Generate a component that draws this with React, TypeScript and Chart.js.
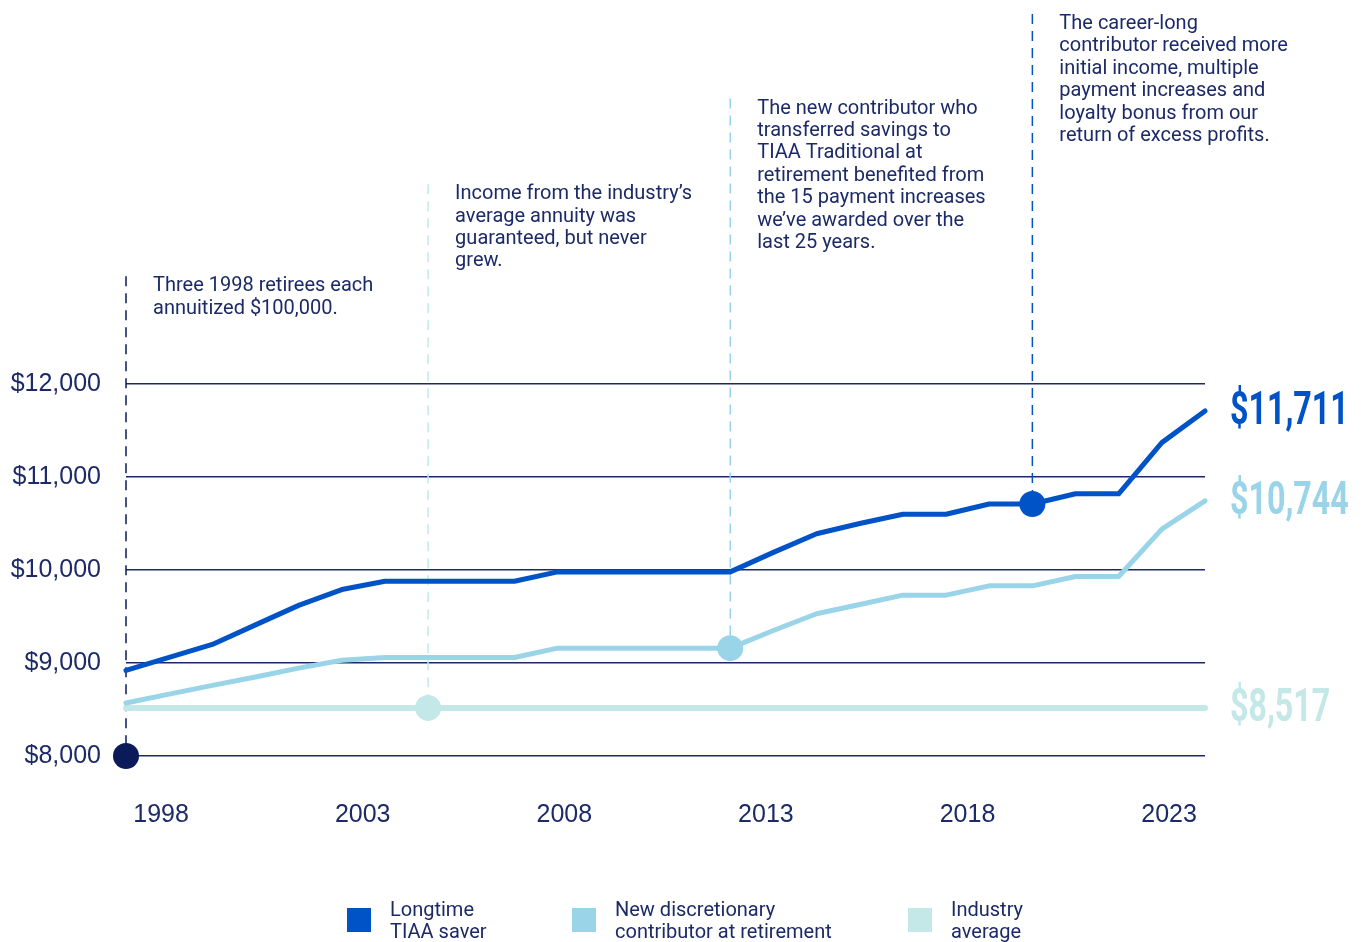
import React, { useEffect, useRef } from 'react';
import { Chart, registerables } from 'chart.js';
Chart.register(...registerables);

// ---- data ----
const years = ['1998','1999','2000','2001','2002','2003','2004','2005','2006','2007','2008','2009','2010','2011','2012','2013','2014','2015','2016','2017','2018','2019','2020','2021','2022','2023'];
const longtimeSaver = [8920,9060,9200,9410,9620,9790,9880,9880,9880,9880,9980,9980,9980,9980,9980,10190,10390,10500,10600,10600,10710,10710,10820,10820,11370,11711];
const newContributor = [8570,8665,8760,8850,8945,9030,9060,9060,9060,9060,9160,9160,9160,9160,9160,9350,9530,9630,9730,9730,9830,9830,9930,9930,10440,10744];
const industryAverage = [8517,8517,8517,8517,8517,8517,8517,8517,8517,8517,8517,8517,8517,8517,8517,8517,8517,8517,8517,8517,8517,8517,8517,8517,8517,8517];
const startValue = 8000;
const yTickValues = [8000, 9000, 10000, 11000, 12000];
const xTickYears = [1998, 2003, 2008, 2013, 2018, 2023];
const endLabels = ['$11,711', '$10,744', '$8,517'];
const legendLabels = [['Longtime', 'TIAA saver'], ['New discretionary', 'contributor at retirement'], ['Industry', 'average']];

const annotationTexts = [
  ['Three 1998 retirees each', 'annuitized $100,000.'],
  ['Income from the industry\u2019s', 'average annuity was', 'guaranteed, but never', 'grew.'],
  ['The new contributor who', 'transferred savings to', 'TIAA Traditional at', 'retirement benefited from', 'the 15 payment increases', 'we\u2019ve awarded over the', 'last 25 years.'],
  ['The career-long', 'contributor received more', 'initial income, multiple', 'payment increases and', 'loyalty bonus from our', 'return of excess profits.'],
];
const annotationIndex = [0, 7, 14, 21];
const annotationValue = [8000, 8517, 9160, 10710];
const annotationTop = [13160, 14150, 15070, 15980];

// ---- styles ----
const NAVY = '#1c2a68';
const DOT_NAVY = '#0b1a58';
const BLUE = '#0053c6';
const LIGHT = '#99d4e8';
const TEAL = '#c4e7e7';
const seriesColors = [BLUE, LIGHT, TEAL];
const annotationColors = [DOT_NAVY, TEAL, LIGHT, BLUE];
const TEXT_FONT = '20px Roboto';

const overlayPlugin = {
  id: 'overlay',
  beforeDatasetsDraw(chart: any) {
    const { ctx, scales } = chart;
    const x = scales.x, y = scales.y;
    annotationTexts.forEach((lines, i) => {
      const px = x.getPixelForValue(annotationIndex[i]);
      const top = y.getPixelForValue(annotationTop[i]);
      const bottom = y.getPixelForValue(annotationValue[i]);
      ctx.save();
      ctx.setLineDash([10, 7]);
      ctx.lineWidth = 1.5;
      ctx.strokeStyle = annotationColors[i];
      ctx.beginPath();
      ctx.moveTo(px, top);
      ctx.lineTo(px, bottom);
      ctx.stroke();
      ctx.setLineDash([]);
      ctx.fillStyle = NAVY;
      ctx.font = TEXT_FONT;
      ctx.textAlign = 'left';
      ctx.textBaseline = 'middle';
      lines.forEach((l, k) => ctx.fillText(l, px + 27, top + 10 + k * 22.4));
      ctx.restore();
    });
  },
  afterDraw(chart: any) {
    const { ctx, scales, chartArea } = chart;
    const y = scales.y;
    const lastVals = [longtimeSaver[longtimeSaver.length - 1], newContributor[newContributor.length - 1], industryAverage[industryAverage.length - 1]];
    ctx.save();
    lastVals.forEach((v, i) => {
      const py = y.getPixelForValue(v);
      ctx.save();
      ctx.translate(chartArea.right + 25, py);
      ctx.scale(0.7, 1);
      ctx.font = 'bold 46px Roboto';
      ctx.fillStyle = seriesColors[i];
      ctx.textAlign = 'left';
      ctx.textBaseline = 'middle';
      ctx.fillText(endLabels[i], 0, 2);
      ctx.restore();
    });
    // legend
    const legendX = [347, 572, 908];
    legendLabels.forEach((lines, i) => {
      ctx.fillStyle = seriesColors[i];
      ctx.fillRect(legendX[i], 908, 24, 24);
      ctx.fillStyle = NAVY;
      ctx.font = TEXT_FONT;
      ctx.textAlign = 'left';
      ctx.textBaseline = 'middle';
      lines.forEach((l, k) => ctx.fillText(l, legendX[i] + 43, 911 + k * 21.5));
    });
    ctx.restore();
  },
};

export default function App() {
  const ref = useRef<HTMLCanvasElement>(null);
  useEffect(() => {
    document.body.style.margin = '0';
    const highlight = (idx: number) => (c: any) => (c.dataIndex === idx ? 13 : 0);
    const chart = new Chart(ref.current!, {
      type: 'line',
      data: {
        labels: years,
        datasets: [
          { label: 'Longtime TIAA saver', data: longtimeSaver, borderColor: BLUE, backgroundColor: BLUE, borderWidth: 5, pointRadius: highlight(21), pointBorderWidth: 0, tension: 0, clip: false as any, borderCapStyle: 'round', borderJoinStyle: 'round' },
          { label: 'New discretionary contributor at retirement', data: newContributor, borderColor: LIGHT, backgroundColor: LIGHT, borderWidth: 5, pointRadius: highlight(14), pointBorderWidth: 0, tension: 0, clip: false as any, borderCapStyle: 'round', borderJoinStyle: 'round' },
          { label: 'Industry average', data: industryAverage, borderColor: TEAL, backgroundColor: TEAL, borderWidth: 6, pointRadius: highlight(7), pointBorderWidth: 0, tension: 0, clip: false as any, borderCapStyle: 'round' },
          { label: 'Start', data: years.map((_, i) => (i === 0 ? startValue : null)), showLine: false, borderColor: DOT_NAVY, backgroundColor: DOT_NAVY, pointRadius: 13, pointBorderWidth: 0, clip: false as any },
        ],
      },
      options: {
        responsive: false,
        animation: false,
        layout: { padding: { top: 10, right: 158, left: 0, bottom: 0 } },
        plugins: { legend: { display: false }, tooltip: { enabled: false } },
        scales: {
          x: { type: 'category', display: false, offset: false },
          x2: {
            type: 'linear', position: 'bottom', min: 1997.13, max: 2023.89,
            afterBuildTicks: (s: any) => { s.ticks = xTickYears.map((v) => ({ value: v })); },
            afterFit: (s: any) => { s.height = 186; },
            grid: { display: false, drawTicks: false },
            border: { display: false },
            ticks: { color: NAVY, font: { family: 'Liberation Sans', size: 25 }, padding: 44, callback: (v: any) => String(v), maxRotation: 0, autoSkip: false },
          },
          y: {
            min: 8000, max: 15700,
            afterBuildTicks: (s: any) => { s.ticks = yTickValues.map((v) => ({ value: v })); },
            afterFit: (s: any) => { s.width = 126; },
            grid: { color: NAVY, lineWidth: 1.5, drawTicks: false },
            border: { display: false },
            ticks: { color: NAVY, font: { family: 'Liberation Sans', size: 25 }, padding: 25, callback: (v: any) => '$' + Number(v).toLocaleString('en-US') },
          },
        } as any,
      },
      plugins: [overlayPlugin],
    } as any);
    return () => chart.destroy();
  }, []);
  return <canvas ref={ref} width={1363} height={942} style={{ display: 'block' }} />;
}
